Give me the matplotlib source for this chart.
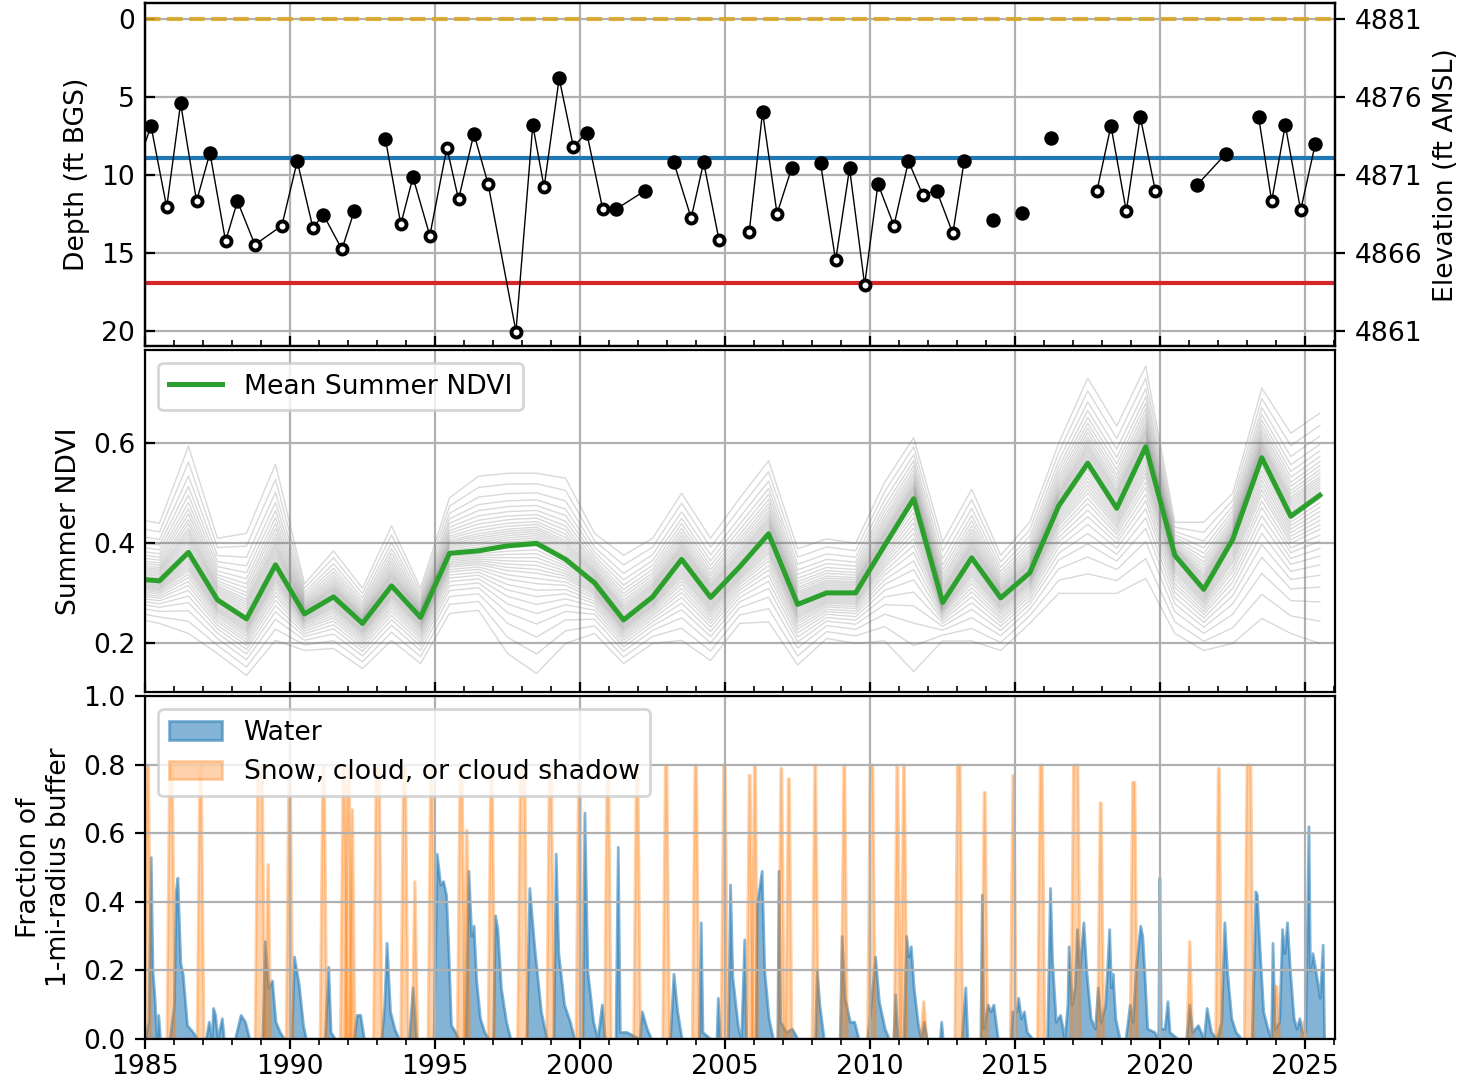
import numpy as np
import matplotlib
matplotlib.use("Agg")
import matplotlib.pyplot as plt
from matplotlib.ticker import MultipleLocator

plt.rcParams['font.size'] = 9.6

# ── well depth (ft below ground surface) ──────────────────────────────────────
# nan marks a gap in the record (line is broken there)
depth_t = [1984.70, 1985.21, 1985.75, 1986.23, 1986.78, 1987.24, 1987.78, 1988.19,
           1988.79, 1989.72, 1990.25, 1990.79, 1991.15, 1991.79, 1992.22, np.nan,
           1993.29, 1993.82, 1994.24, 1994.82, 1995.41, 1995.81, 1996.34, 1996.83,
           1997.79, 1998.37, 1998.76, 1999.28, 1999.77, 2000.23, 2000.78, 2001.25,
           2002.24, np.nan,
           2003.23, 2003.83, 2004.26, 2004.79, np.nan,
           2005.83, 2006.29, 2006.79, 2007.29, np.nan,
           2008.29, 2008.81, 2009.29, 2009.81, 2010.27, 2010.82, 2011.32, 2011.81,
           2012.29, 2012.85, 2013.24, np.nan,
           2014.22, np.nan, 2015.23, np.nan, 2016.23, np.nan,
           2017.82, 2018.30, 2018.83, 2019.31, 2019.83, np.nan,
           2021.26, 2022.26, np.nan,
           2023.39, 2023.84, 2024.31, 2024.84, 2025.34]
depth_ft = [9.6, 6.88, 12.09, 5.42, 11.7, 8.6, 14.26, 11.7,
            14.49, 13.27, 9.13, 13.4, 12.56, 14.79, 12.3, np.nan,
            7.72, 13.18, 10.16, 13.91, 8.27, 11.58, 7.37, 10.59,
            20.06, 6.82, 10.8, 3.82, 8.21, 7.31, 12.2, 12.2,
            11.02, np.nan,
            9.2, 12.78, 9.2, 14.19, np.nan,
            13.7, 5.98, 12.5, 9.6, np.nan,
            9.28, 15.5, 9.6, 17.06, 10.59, 13.27, 9.13, 11.28,
            11.02, 13.76, 9.13, np.nan,
            12.9, np.nan, 12.45, np.nan, 7.63, np.nan,
            11.02, 6.86, 12.35, 6.28, 11.02, np.nan,
            10.68, 8.66, np.nan,
            6.28, 11.7, 6.82, 12.28, 8.06]
# 1 = spring measurement (filled), 0 = fall measurement (open)
depth_spring = [0, 1, 0, 1, 0, 1, 0, 1,
                0, 0, 1, 0, 1, 0, 1, 0,
                1, 0, 1, 0, 0, 0, 1, 0,
                0, 1, 0, 1, 0, 1, 0, 1,
                1, 0,
                1, 0, 1, 0, 0,
                0, 1, 0, 1, 0,
                1, 0, 1, 0, 1, 0, 1, 0,
                1, 0, 1, 0,
                1, 0, 1, 0, 1, 0,
                0, 1, 0, 1, 0, 0,
                1, 1, 0,
                1, 0, 1, 0, 1]
LAND_SURFACE = 4881.0
DEPTH_BLUE = 8.94
DEPTH_RED = 16.92

# ── summer NDVI ───────────────────────────────────────────────────────────────
ndvi_t = [1984.5 + i for i in range(42)]
ndvi_mean = [0.330, 0.325, 0.382, 0.287, 0.249, 0.357, 0.259, 0.293, 0.240, 0.315,
             0.252, 0.380, 0.385, 0.395, 0.400, 0.368, 0.321, 0.247, 0.293, 0.368,
             0.292, 0.353, 0.419, 0.278, 0.301, 0.301, 0.396, 0.489, 0.282, 0.371,
             0.291, 0.341, 0.475, 0.560, 0.470, 0.593, 0.376, 0.308, 0.408, 0.571,
             0.454, 0.496]
ndvi_hi = [0.451, 0.440, 0.594, 0.410, 0.420, 0.558, 0.319, 0.385, 0.310, 0.435,
           0.310, 0.491, 0.534, 0.540, 0.540, 0.530, 0.420, 0.376, 0.410, 0.500,
           0.410, 0.490, 0.565, 0.389, 0.409, 0.400, 0.522, 0.611, 0.403, 0.508,
           0.376, 0.442, 0.600, 0.730, 0.634, 0.754, 0.442, 0.442, 0.500, 0.710,
           0.620, 0.660]
ndvi_lo = [0.252, 0.240, 0.220, 0.180, 0.136, 0.206, 0.186, 0.190, 0.150, 0.206,
           0.160, 0.260, 0.266, 0.180, 0.140, 0.200, 0.220, 0.160, 0.200, 0.206,
           0.166, 0.240, 0.243, 0.157, 0.210, 0.200, 0.205, 0.144, 0.205, 0.205,
           0.186, 0.240, 0.300, 0.300, 0.300, 0.330, 0.220, 0.186, 0.200, 0.250,
           0.220, 0.200]
# relative positions of the individual-pixel traces inside the envelope
pixel_levels = [-1.0, -0.85, -0.72, -0.62, -0.54, -0.47, -0.41, -0.36, -0.31, -0.27,
                -0.23, -0.2, -0.17, -0.14, -0.11, -0.08, -0.05, -0.02, 0.02, 0.05,
                0.08, 0.11, 0.14, 0.17, 0.2, 0.23, 0.27, 0.31, 0.36, 0.41, 0.47,
                0.54, 0.62, 0.72, 0.85, 1.0]

# ── water fraction (vertices) ─────────────────────────────────────────────────
water = [
    (1985.00, 0.0), (1985.12, 0.05), (1985.20, 0.53), (1985.26, 0.20), (1985.33, 0.12),
    (1985.40, 0.0), (1985.46, 0.07), (1985.52, 0.0), (1985.85, 0.0), (1986.00, 0.10),
    (1986.06, 0.43), (1986.12, 0.47), (1986.22, 0.22), (1986.30, 0.19), (1986.45, 0.04),
    (1986.65, 0.02), (1986.80, 0.0), (1987.10, 0.0), (1987.20, 0.05), (1987.30, 0.0),
    (1987.35, 0.09), (1987.42, 0.07), (1987.50, 0.0), (1987.65, 0.06), (1987.72, 0.0),
    (1988.10, 0.0), (1988.30, 0.07), (1988.45, 0.05), (1988.60, 0.0), (1989.05, 0.0),
    (1989.13, 0.285), (1989.25, 0.15), (1989.38, 0.17), (1989.50, 0.05), (1989.65, 0.02),
    (1989.80, 0.0), (1990.05, 0.0), (1990.14, 0.24), (1990.30, 0.16), (1990.45, 0.04),
    (1990.55, 0.0), (1991.20, 0.0), (1991.32, 0.21), (1991.40, 0.02), (1991.55, 0.0),
    (1992.20, 0.0), (1992.30, 0.07), (1992.42, 0.07), (1992.55, 0.0), (1993.15, 0.0),
    (1993.25, 0.10), (1993.33, 0.28), (1993.45, 0.08), (1993.60, 0.03), (1993.75, 0.0),
    (1994.10, 0.0), (1994.23, 0.15), (1994.35, 0.0), (1994.95, 0.0), (1995.06, 0.54),
    (1995.18, 0.45), (1995.28, 0.46), (1995.38, 0.42), (1995.45, 0.28), (1995.55, 0.04),
    (1995.70, 0.02), (1995.80, 0.0), (1996.05, 0.0), (1996.15, 0.49), (1996.25, 0.30),
    (1996.33, 0.33), (1996.42, 0.17), (1996.55, 0.06), (1996.70, 0.02), (1996.85, 0.0),
    (1997.00, 0.0), (1997.07, 0.36), (1997.15, 0.32), (1997.27, 0.15), (1997.45, 0.05),
    (1997.60, 0.0), (1998.15, 0.0), (1998.25, 0.44), (1998.42, 0.27), (1998.65, 0.08),
    (1998.85, 0.0), (1999.08, 0.0), (1999.16, 0.54), (1999.25, 0.25), (1999.45, 0.10),
    (1999.65, 0.05), (1999.80, 0.0), (2000.08, 0.0), (2000.15, 0.66), (2000.25, 0.20),
    (2000.45, 0.05), (2000.60, 0.0), (2000.75, 0.10), (2000.85, 0.0), (2001.22, 0.0),
    (2001.30, 0.56), (2001.37, 0.02), (2001.60, 0.02), (2002.05, 0.0), (2002.13, 0.08),
    (2002.30, 0.03), (2002.45, 0.0), (2003.10, 0.0), (2003.22, 0.19), (2003.35, 0.08),
    (2003.50, 0.0), (2004.10, 0.0), (2004.16, 0.34), (2004.22, 0.02), (2004.50, 0.0),
    (2004.70, 0.0), (2004.75, 0.12), (2004.82, 0.0), (2005.10, 0.0), (2005.17, 0.45),
    (2005.25, 0.18), (2005.45, 0.03), (2005.55, 0.0), (2005.66, 0.29), (2005.72, 0.0),
    (2006.05, 0.0), (2006.09, 0.39), (2006.26, 0.49), (2006.35, 0.20), (2006.50, 0.06),
    (2006.65, 0.0), (2006.80, 0.0), (2006.84, 0.49), (2006.90, 0.05), (2007.10, 0.02),
    (2007.30, 0.03), (2007.50, 0.0), (2008.10, 0.0), (2008.16, 0.20), (2008.25, 0.10),
    (2008.40, 0.0), (2008.95, 0.0), (2009.02, 0.30), (2009.12, 0.12), (2009.30, 0.05),
    (2009.45, 0.05), (2009.60, 0.0), (2009.90, 0.0), (2010.00, 0.08), (2010.17, 0.24),
    (2010.30, 0.11), (2010.50, 0.03), (2010.65, 0.0), (2010.80, 0.0), (2010.86, 0.13),
    (2010.95, 0.0), (2011.15, 0.0), (2011.24, 0.30), (2011.32, 0.24), (2011.40, 0.27),
    (2011.50, 0.15), (2011.65, 0.04), (2011.75, 0.0), (2011.85, 0.05), (2011.95, 0.0),
    (2012.40, 0.0), (2012.45, 0.05), (2012.50, 0.0), (2013.15, 0.0), (2013.28, 0.15),
    (2013.35, 0.0), (2013.80, 0.0), (2013.85, 0.42), (2013.90, 0.03), (2014.05, 0.10),
    (2014.15, 0.08), (2014.25, 0.10), (2014.40, 0.0), (2014.85, 0.0), (2014.90, 0.08),
    (2015.05, 0.08), (2015.10, 0.12), (2015.20, 0.06), (2015.30, 0.08), (2015.40, 0.02),
    (2015.60, 0.0), (2016.10, 0.0), (2016.20, 0.44), (2016.27, 0.23), (2016.40, 0.05),
    (2016.55, 0.07), (2016.70, 0.0), (2016.80, 0.10), (2016.84, 0.27), (2016.95, 0.10),
    (2017.05, 0.15), (2017.13, 0.32), (2017.22, 0.20), (2017.35, 0.34), (2017.45, 0.20),
    (2017.60, 0.06), (2017.75, 0.03), (2017.85, 0.15), (2017.95, 0.05), (2018.10, 0.10),
    (2018.24, 0.32), (2018.30, 0.15), (2018.36, 0.19), (2018.45, 0.06), (2018.60, 0.0),
    (2018.80, 0.0), (2018.95, 0.10), (2019.05, 0.05), (2019.15, 0.20), (2019.31, 0.33),
    (2019.38, 0.30), (2019.45, 0.20), (2019.55, 0.03), (2019.80, 0.02), (2019.93, 0.0),
    (2019.97, 0.47), (2020.02, 0.03), (2020.15, 0.03), (2020.25, 0.11), (2020.32, 0.02),
    (2020.60, 0.0), (2020.90, 0.0), (2021.00, 0.10), (2021.10, 0.02), (2021.30, 0.04),
    (2021.50, 0.0), (2021.60, 0.09), (2021.75, 0.02), (2021.95, 0.0), (2022.10, 0.05),
    (2022.21, 0.34), (2022.30, 0.20), (2022.45, 0.06), (2022.60, 0.02), (2022.80, 0.0),
    (2023.15, 0.0), (2023.22, 0.20), (2023.28, 0.43), (2023.33, 0.42), (2023.40, 0.30),
    (2023.55, 0.08), (2023.70, 0.03), (2023.82, 0.0), (2023.87, 0.28), (2023.95, 0.03),
    (2024.10, 0.05), (2024.20, 0.32), (2024.28, 0.25), (2024.37, 0.34), (2024.47, 0.20),
    (2024.60, 0.06), (2024.70, 0.03), (2024.80, 0.06), (2024.88, 0.02), (2025.00, 0.02),
    (2025.11, 0.62), (2025.16, 0.20), (2025.25, 0.25), (2025.35, 0.20), (2025.50, 0.12),
    (2025.60, 0.275), (2025.65, 0.0),
]

# ── snow / cloud events: (centre, half-width of the plateau, peak) ────────────
snow_events = [
    (1985.08, 0.03, 0.80), (1985.88, 0.05, 0.80), (1986.90, 0.03, 0.80),
    (1988.95, 0.08, 0.80), (1989.23, 0.01, 0.51), (1989.97, 0.03, 0.80),
    (1991.14, 0.03, 0.80), (1991.84, 0.03, 0.80), (1992.00, 0.03, 0.80),
    (1992.13, 0.01, 0.67), (1993.01, 0.06, 0.80), (1993.93, 0.04, 0.80),
    (1994.29, 0.01, 0.46), (1994.86, 0.03, 0.80), (1995.88, 0.04, 0.80),
    (1996.08, 0.01, 0.61), (1996.93, 0.03, 0.80), (1998.00, 0.08, 0.80),
    (1998.96, 0.04, 0.80), (1999.96, 0.03, 0.80), (2000.94, 0.03, 0.80),
    (2001.95, 0.03, 0.80), (2002.95, 0.03, 0.80), (2003.97, 0.03, 0.80),
    (2004.96, 0.03, 0.80), (2005.83, 0.02, 0.77), (2006.01, 0.02, 0.80),
    (2006.92, 0.02, 0.79), (2007.18, 0.02, 0.76), (2008.09, 0.02, 0.80),
    (2009.09, 0.02, 0.80), (2010.03, 0.05, 0.80), (2010.92, 0.02, 0.80),
    (2011.15, 0.02, 0.80), (2011.83, 0.01, 0.11), (2013.04, 0.05, 0.80),
    (2013.93, 0.02, 0.72), (2014.92, 0.02, 0.77), (2015.88, 0.04, 0.80),
    (2017.07, 0.08, 0.80), (2017.93, 0.02, 0.69), (2019.07, 0.04, 0.75),
    (2021.00, 0.01, 0.285), (2022.00, 0.02, 0.79), (2023.04, 0.07, 0.80),
    (2023.99, 0.02, 0.155), (2024.93, 0.01, 0.05),
]

XMIN, XMAX = 1985.0, 2026.03

fig, (ax1, ax2, ax3) = plt.subplots(3, 1, figsize=(7.32, 5.405), dpi=200, sharex=True)
fig.subplots_adjust(left=0.099, right=0.912, top=0.997, bottom=0.039, hspace=0.01)

# ── panel 1: depth to water ───────────────────────────────────────────────────
t = np.array(depth_t, dtype=float)
d = np.array(depth_ft, dtype=float)
sp = np.array(depth_spring, dtype=bool)
ax1.axhline(0, color='goldenrod', ls='--', lw=1.5, alpha=0.85)
ax1.axhline(DEPTH_BLUE, color='tab:blue', lw=1.5)
ax1.axhline(DEPTH_RED, color='tab:red', lw=1.5)
ax1.plot(t, d, color='black', lw=0.5, zorder=3)
ok = ~np.isnan(d)
ax1.plot(t[ok & sp], d[ok & sp], 'o', color='black', ms=4.2, zorder=4)
ax1.plot(t[ok & ~sp], d[ok & ~sp], 'o', mfc='white', mec='black', ms=3.6, mew=1.4, zorder=4)
ax1.set_ylim(21, -1)
ax1.set_yticks([0, 5, 10, 15, 20])
ax1.set_ylabel("Depth (ft BGS)")
ax1.grid(True)
ax1.tick_params(direction='in', which='both')

ax1r = ax1.twinx()
ax1r.set_ylim(LAND_SURFACE - 21, LAND_SURFACE + 1)
ax1r.set_yticks([4861, 4866, 4871, 4876, 4881])
ax1r.set_ylabel("Elevation (ft AMSL)")

# ── panel 2: NDVI ─────────────────────────────────────────────────────────────
nt = np.array(ndvi_t)
nm = np.array(ndvi_mean)
nh = np.array(ndvi_hi)
nl = np.array(ndvi_lo)
for q in pixel_levels:
    edge = nh if q > 0 else nl
    ax2.plot(nt, nm + abs(q) * (edge - nm), color='dimgray', lw=0.5, alpha=0.25)
ax2.plot(nt, nm, color='tab:green', lw=1.8, label='Mean Summer NDVI')
ax2.set_ylim(0.102, 0.787)
ax2.set_yticks([0.2, 0.4, 0.6])
ax2.set_ylabel("Summer NDVI")
ax2.grid(True)
ax2.legend(loc='upper left')
ax2.tick_params(direction='in', which='both')

# ── panel 3: land cover fractions ─────────────────────────────────────────────
wt = [p[0] for p in water]
wv = [p[1] for p in water]
ax3.fill_between(wt, wv, color='tab:blue', alpha=0.55, label='Water')
for i, (c, hw, h) in enumerate(snow_events):
    st = [c - hw - 0.09, c - hw, c + hw, c + hw + 0.09]
    sv = [0, h, h, 0]
    ax3.fill_between(st, sv, color='tab:orange', alpha=0.35,
                     label='Snow, cloud, or cloud shadow' if i == 0 else None)
ax3.set_ylim(0, 1.0)
ax3.set_ylabel("Fraction of\n1-mi-radius buffer")
ax3.grid(True)
ax3.legend(loc='upper left')

ax3.set_xlim(XMIN, XMAX)
ax3.xaxis.set_minor_locator(MultipleLocator(1))
ax3.set_xticks(range(1985, 2026, 5))
ax3.tick_params(axis='x', which='major', pad=2)

fig.savefig("out.png", dpi=200)
